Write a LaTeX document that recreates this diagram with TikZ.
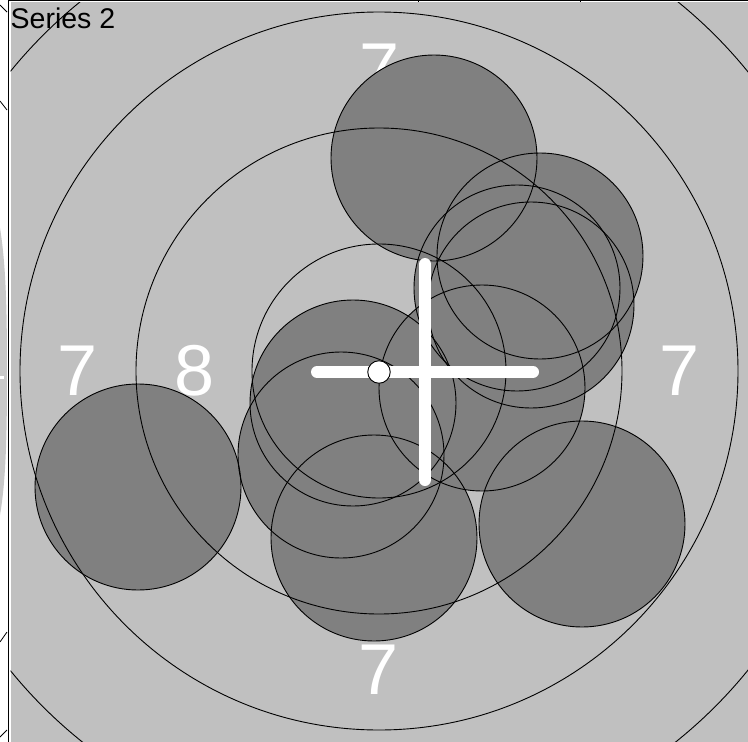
\documentclass[tikz,border=0pt]{standalone}
\usepackage{fontspec}
\setmainfont{Liberation Sans}
\definecolor{panelbg}{RGB}{192,192,192}
\definecolor{shotfill}{RGB}{128,128,128}
\definecolor{stripgray}{RGB}{200,200,200}
\tikzset{
  ringline/.style={draw=black, line width=0.9pt},
  shotline/.style={draw=black, line width=0.9pt},
  ringlabel/.style={text=white, inner sep=0pt, font=\fontsize{72}{72}\selectfont},
  crossbar/.style={draw=white, line width=12pt, line cap=round},
}
\begin{document}
\begin{tikzpicture}[x=1pt,y=-1pt]
\useasboundingbox (0,0) rectangle (748,742);
\fill[white] (0,0) rectangle (748,742);
% left strip (edge of a neighbouring panel)
\fill[stripgray] (0,228) .. controls (6,265) and (7,310) .. (7,372) .. controls (7,435) and (6,480) .. (0,515) -- cycle;
\fill[white] (0,376) rectangle (3.5,379);
\draw[black, line width=0.8pt] (0,5) -- (7,12);
\draw[black, line width=0.8pt] (0,101) -- (7,110);
\draw[black, line width=0.8pt] (0,642) -- (7,632);
\draw[black, line width=0.8pt] (0,737) -- (7,730);

\coordinate (c) at (379,371);
\coordinate (s1) at (434,158);
\coordinate (s2) at (138,487);
\coordinate (s3) at (582,524);
\coordinate (s4) at (374,538);
\coordinate (s5) at (353,403);
\coordinate (s6) at (341,455);
\coordinate (s7) at (482,388);
\coordinate (s8) at (540,256);
\coordinate (s9) at (517,288);
\coordinate (s10) at (531,305);

\begin{scope}
\clip (10.5,2) rectangle (748,742);
\fill[panelbg] (10.5,2) rectangle (748,742);
% ring labels
\node[ringlabel] (l7w) at (78,371) {7};
\node[ringlabel] (l8w) at (195,371) {8};
\node[ringlabel] (l7e) at (680,371) {7};
\node[ringlabel] (l7n) at (380,69) {7};
\node[ringlabel] (l7s) at (379,670) {7};
% shot fills
\foreach \s in {s1,s2,s3,s4,s5,s6,s7,s8,s9,s10}
  \fill[shotfill] (\s) circle[radius=103];
% rings
\foreach \r in {127,243,359,475}
  \draw[ringline] (c) circle[radius=\r];
% shot outlines
\foreach \s in {s1,s2,s3,s4,s5,s6,s7,s8,s9,s10}
  \draw[shotline] (\s) circle[radius=103];
% cross
\coordinate (xc) at (425,372);
\draw[crossbar] (317,372) -- (533,372);
\draw[crossbar] (425,264) -- (425,480);
% centre mark
\node[circle, draw=black, fill=white, line width=0.9pt, minimum size=22.5pt, inner sep=0pt] (dot) at (379,372) {};
\end{scope}

% frame lines
\draw[black, line width=1.6pt] (8.3,0) -- (8.3,742);
\draw[black, line width=1.4pt] (8,0.7) -- (748,0.7);
\draw[black, line width=1pt] (418,0) -- (418,1.8);
\draw[black, line width=1pt] (580,0) -- (580,1.8);
\node[anchor=base west, inner sep=0pt, font=\fontsize{28.5}{30}\selectfont] (title) at (10.5,28.5) {Series 2};
\end{tikzpicture}
\end{document}
